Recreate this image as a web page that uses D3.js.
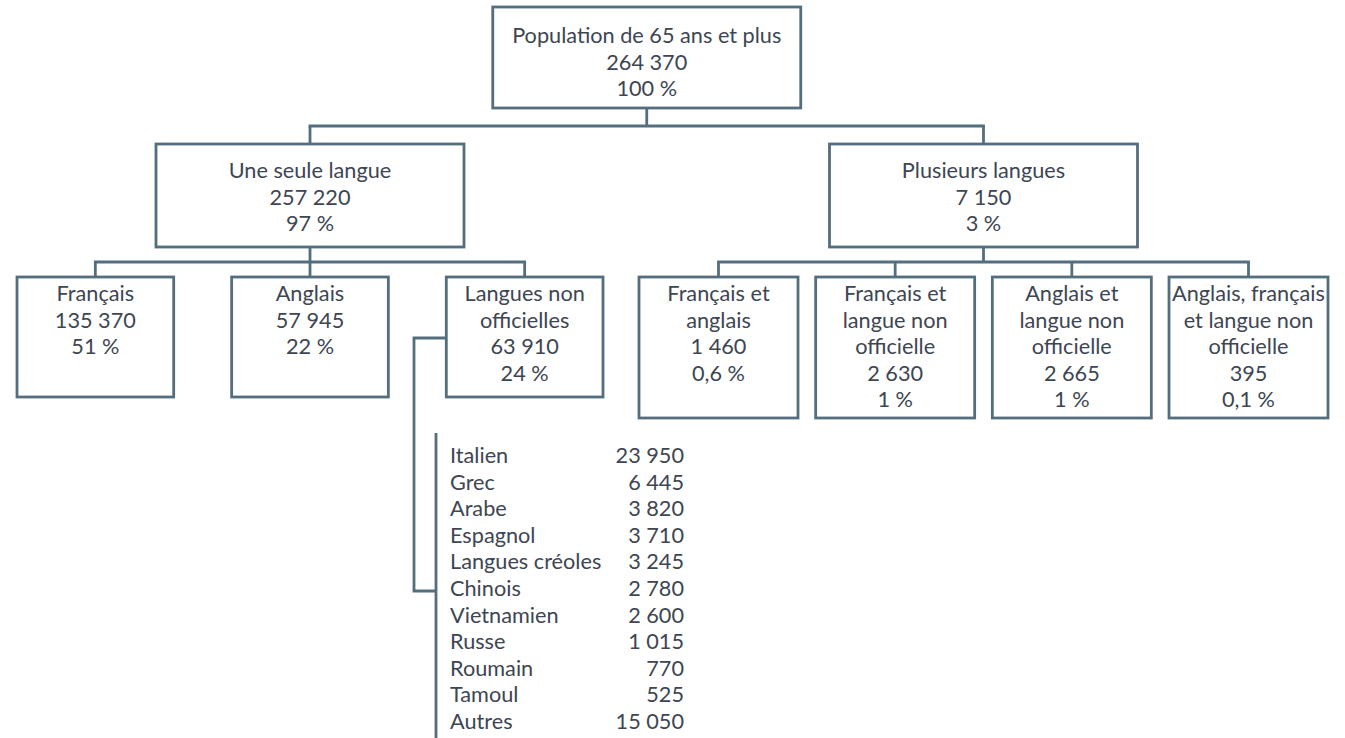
<!DOCTYPE html>
<html><head><meta charset="utf-8">
<script src="https://cdn.jsdelivr.net/npm/d3@7"></script>
<style>body{margin:0;background:#fff}</style>
</head><body><svg id="c" width="1345" height="738"></svg>
<script>
// ---- data ----
const nodeIds = ["root","une","plus","fr","en","nonoff","fren","frnon","ennon","enfrnon"];
const nodeParents = [null,"root","root","une","une","une","plus","plus","plus","plus"];
const nodeLabels = [["Population de 65 ans et plus"],["Une seule langue"],["Plusieurs langues"],["Français"],["Anglais"],["Langues non","officielles"],["Français et","anglais"],["Français et","langue non","officielle"],["Anglais et","langue non","officielle"],["Anglais, français","et langue non","officielle"]];
const nodeValues = [264370,257220,7150,135370,57945,63910,1460,2630,2665,395];
const nodePercents = [100,97,3,51,22,24,0.6,1,1,0.1];
const otherLanguages = ["Italien","Grec","Arabe","Espagnol","Langues créoles","Chinois","Vietnamien","Russe","Roumain","Tamoul","Autres"];
const otherValues = [23950,6445,3820,3710,3245,2780,2600,1015,770,525,15050];

// ---- style / layout ----
const LINE = "#546e7e", TEXT = "#3d4652", FONT = "Lato, 'Open Sans', sans-serif", FS = 21.7, SW = 2.8, LH = 26.6;
const loc = d3.formatLocale({decimal: ",", thousands: "\u00a0", grouping: [3], currency: ["", ""]});
const fmtN = loc.format(","), fmtP = loc.format("~g");

const svg = d3.select("#c");
const rows = nodeIds.map((id, i) => ({id, parent: nodeParents[i], labels: nodeLabels[i], value: nodeValues[i], pct: nodePercents[i]}));
const root = d3.stratify().id(d => d.id).parentId(d => d.parent)(rows);

const levelTop = d3.scaleOrdinal().domain([0,1,2]).range([7,144,277]);
const levelFirst = d3.scaleOrdinal().domain([0,1,2]).range([28,26,16]);
const innerW = 308;

const une = root.children[0], plus = root.children[1];
const xLeft = d3.scaleBand().domain(une.children.map(d => d.id)).range([17,603]).paddingInner(0.27);
const xRight = d3.scaleBand().domain(plus.children.map(d => d.id)).range([639,1328]).paddingInner(0.1);
une.children.forEach(d => { d.x0 = xLeft(d.id); d.x1 = d.x0 + xLeft.bandwidth(); d.h = 120; });
plus.children.forEach(d => { d.x0 = xRight(d.id); d.x1 = d.x0 + xRight.bandwidth(); d.h = 141; });
root.eachAfter(d => {
  if (d.children) {
    const a = d.children[0], b = d.children[d.children.length-1];
    const c = ((a.x0 + a.x1) / 2 + (b.x0 + b.x1) / 2) / 2;
    d.x0 = c - innerW / 2; d.x1 = c + innerW / 2; d.h = d.depth === 0 ? 101 : 103;
  }
});
root.each(d => { d.cx = (d.x0 + d.x1) / 2; d.y0 = levelTop(d.depth); d.y1 = d.y0 + d.h; });

// connectors
const gLines = svg.append("g").attr("fill", "none").attr("stroke", LINE).attr("stroke-width", SW);
root.each(d => {
  if (!d.children) return;
  const mid = (d.y1 + d.children[0].y0) / 2;
  const first = d.children[0].cx, last = d.children[d.children.length-1].cx;
  gLines.append("line").attr("x1", d.cx).attr("x2", d.cx).attr("y1", d.y1).attr("y2", mid);
  gLines.append("line").attr("x1", first).attr("x2", last).attr("y1", mid).attr("y2", mid).attr("stroke-linecap", "square");
  d.children.forEach(c => gLines.append("line").attr("x1", c.cx).attr("x2", c.cx).attr("y1", mid).attr("y2", c.y0));
});

// boxes
const nodes = svg.append("g").selectAll("g").data(root.descendants()).join("g");
nodes.append("rect").attr("x", d => d.x0).attr("y", d => d.y0).attr("width", d => d.x1 - d.x0).attr("height", d => d.h)
  .attr("fill", "#fff").attr("stroke", LINE).attr("stroke-width", SW);
nodes.each(function(d) {
  const lines = d.data.labels.concat([fmtN(d.data.value), fmtP(d.data.pct) + "\u00a0%"]);
  d3.select(this).selectAll("text").data(lines).join("text")
    .attr("x", d.cx).attr("y", (t, i) => d.y0 + levelFirst(d.depth) + i * LH)
    .attr("text-anchor", "middle").attr("dominant-baseline", "central")
    .attr("font-family", FONT).attr("font-size", FS).attr("fill", TEXT).text(t => t);
});

// list of non-official languages
const nonoff = root.find(d => d.id === "nonoff");
const yList = d3.scalePoint().domain(otherLanguages).range([455, 455 + LH * (otherLanguages.length - 1)]);
const listX = 436, bracketX = 414;
const joinY = nonoff.y0 + 61, hookY = yList("Chinois") + 3;
gLines.append("path").attr("d", `M${nonoff.x0},${joinY}H${bracketX}V${hookY}H${listX}`);
gLines.append("line").attr("x1", listX).attr("x2", listX).attr("y1", 433).attr("y2", 740);
const gl = svg.append("g").attr("font-family", FONT).attr("font-size", FS).attr("fill", TEXT).attr("dominant-baseline", "central");
gl.selectAll("text.n").data(otherLanguages).join("text").attr("class", "n").attr("x", 450).attr("y", d => yList(d)).text(d => d);
gl.selectAll("text.v").data(otherValues).join("text").attr("class", "v").attr("x", 684).attr("text-anchor", "end")
  .attr("y", (d, i) => yList(otherLanguages[i])).text(d => fmtN(d));
</script></body></html>
